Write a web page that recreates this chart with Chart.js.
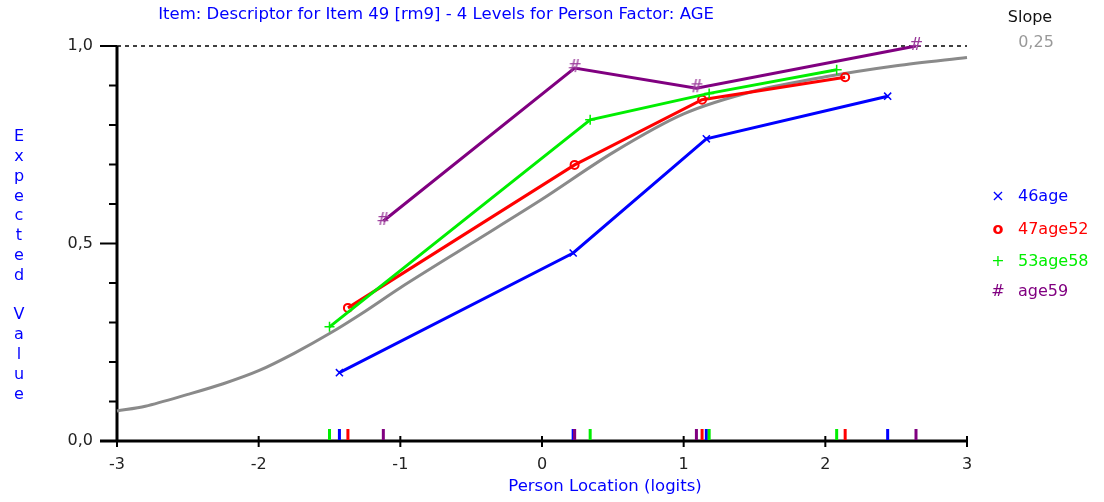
<!DOCTYPE html>
<html>
<head>
<meta charset="utf-8">
<script src="https://cdn.jsdelivr.net/npm/chart.js@4/dist/chart.umd.min.js"></script>
<style>
  body { margin: 0; background: #fff; }
  #wrap { width: 1104px; height: 502px; }
</style>
</head>
<body>
<div id="wrap"><canvas id="iccChart" width="1104" height="502"></canvas></div>
<script>
// expected value curve (grey)
const curveX = [-3, -2.8, -2.5, -2.25, -2, -1.75, -1.5, -1.25, -1, -0.5, 0, 0.5, 1, 1.5, 2, 2.5, 3];
const curveY = [0.076, 0.088, 0.118, 0.145, 0.178, 0.222, 0.272, 0.328, 0.388, 0.50, 0.612, 0.73, 0.828, 0.886, 0.922, 0.95, 0.971];

// class interval means per person factor level
const ageLabels = ['46age', '47age52', '53age58', 'age59'];
const blueX = [-1.43, 0.22, 1.16, 2.44];
const blueY = [0.173, 0.476, 0.765, 0.873];
const redX = [-1.37, 0.23, 1.13, 2.14];
const redY = [0.337, 0.699, 0.864, 0.921];
const greenX = [-1.50, 0.34, 1.18, 2.08];
const greenY = [0.289, 0.813, 0.88, 0.94];
const purpleX = [-1.12, 0.23, 1.09, 2.64];
const purpleY = [0.557, 0.944, 0.893, 1.0];

const xTicks = [-3, -2, -1, 0, 1, 2, 3];
const yMajor = [0, 0.5, 1.0];
const yMajorLabels = ['0,0', '0,5', '1,0'];
const yMinor = [0.1, 0.2, 0.3, 0.4, 0.6, 0.7, 0.8, 0.9];

const titleText = 'Item: Descriptor for Item 49 [rm9] - 4 Levels for Person Factor: AGE';
const xTitle = 'Person Location (logits)';
const yTitle = 'Expected Value';
const slopeLabel = 'Slope';
const slopeValue = '0,25';

const colors = ['#0000ff', '#ff0000', '#00ee00', '#800080'];
const glyphs = ['\u00d7', 'o', '+', '#'];
const FONT = '"DejaVu Sans", Verdana, sans-serif';

const zip = (xs, ys) => xs.map((x, i) => ({ x, y: ys[i] }));

// '#' marker for age59 as an image point style
const hashMark = document.createElement('canvas');
hashMark.width = 18; hashMark.height = 18;
(() => {
    const c = hashMark.getContext('2d');
    c.fillStyle = '#9a3a9a';
    c.font = '17px ' + FONT;
    c.textAlign = 'center';
    c.textBaseline = 'middle';
    c.fillText('#', 9, 9);
})();

const seriesX = [blueX, redX, greenX, purpleX];
const seriesY = [blueY, redY, greenY, purpleY];
const pointStyles = ['crossRot', 'circle', 'cross', hashMark];
const pointSizes = [5, 4, 5, 9];

const datasets = ageLabels.map((lab, i) => ({
    label: lab,
    data: zip(seriesX[i], seriesY[i]),
    showLine: true,
    borderColor: colors[i],
    borderWidth: 3,
    pointStyle: pointStyles[i],
    pointRadius: pointSizes[i],
    pointBorderWidth: i === 1 ? 2 : 1.5,
    pointBorderColor: colors[i],
    pointBackgroundColor: 'rgba(0,0,0,0)',
    order: 4 - i
}));
datasets.push({
    label: 'expected',
    data: zip(curveX, curveY),
    showLine: true,
    borderColor: '#8a8a8a',
    borderWidth: 3,
    pointRadius: 0,
    tension: 0.3,
    order: 10
});

const decor = {
    id: 'decor',
    beforeDatasetsDraw(chart) {
        const { ctx, scales: { x, y } } = chart;
        const x0 = x.getPixelForValue(-3), x1 = x.getPixelForValue(3);
        const yb = y.getPixelForValue(0), yt = y.getPixelForValue(1);
        ctx.save();
        // dashed line at 1,0
        ctx.strokeStyle = '#000';
        ctx.lineWidth = 1.5;
        ctx.setLineDash([4, 4]);
        ctx.beginPath(); ctx.moveTo(x0, yt); ctx.lineTo(x1, yt); ctx.stroke();
        ctx.setLineDash([]);
        // axes
        ctx.lineWidth = 3;
        ctx.beginPath();
        ctx.moveTo(x0, yt); ctx.lineTo(x0, yb);
        ctx.moveTo(x0 - 17, yb); ctx.lineTo(x1, yb);
        ctx.stroke();
        ctx.lineWidth = 2;
        ctx.beginPath();
        yMajor.forEach(v => { const p = y.getPixelForValue(v); ctx.moveTo(x0 - 17, p); ctx.lineTo(x0, p); });
        yMinor.forEach(v => { const p = y.getPixelForValue(v); ctx.moveTo(x0 - 8, p); ctx.lineTo(x0, p); });
        xTicks.forEach(v => { const p = x.getPixelForValue(v); ctx.moveTo(p, yb - 5); ctx.lineTo(p, yb + 6); });
        ctx.stroke();
        // rug marks for each level
        ctx.lineWidth = 3;
        seriesX.forEach((xs, i) => {
            ctx.strokeStyle = colors[i];
            ctx.beginPath();
            xs.forEach(v => { const p = x.getPixelForValue(v); ctx.moveTo(p, yb - 12); ctx.lineTo(p, yb - 1); });
            ctx.stroke();
        });
        ctx.restore();
    },
    afterDraw(chart) {
        const { ctx, scales: { x, y } } = chart;
        const x0 = x.getPixelForValue(-3);
        const yb = y.getPixelForValue(0);
        ctx.save();
        ctx.textBaseline = 'middle';
        ctx.font = '16px ' + FONT;
        ctx.fillStyle = '#222';
        ctx.textAlign = 'right';
        yMajor.forEach((v, i) => ctx.fillText(yMajorLabels[i], x0 - 24, y.getPixelForValue(v)));
        ctx.textAlign = 'center';
        xTicks.forEach(v => ctx.fillText(String(v), x.getPixelForValue(v), yb + 24));

        ctx.fillStyle = '#0000ff';
        ctx.font = '16.5px ' + FONT;
        ctx.fillText(titleText, 436, 15);
        ctx.fillText(xTitle, 605, 487);
        ctx.font = '16px ' + FONT;
        // vertical stacked y title
        [...yTitle].forEach((ch, i) => ctx.fillText(ch, 19, 137 + i * 19.8));

        ctx.fillStyle = '#111';
        ctx.fillText(slopeLabel, 1030, 18);
        ctx.fillStyle = '#999';
        ctx.fillText(slopeValue, 1036, 43);

        // legend
        const rows = [197, 230, 262, 292];
        ageLabels.forEach((lab, i) => {
            ctx.fillStyle = colors[i];
            ctx.textAlign = 'center';
            ctx.font = (i === 1 ? 'bold ' : '') + '16px ' + FONT;
            ctx.fillText(glyphs[i], 998, rows[i]);
            ctx.font = '16px ' + FONT;
            ctx.textAlign = 'left';
            ctx.fillText(lab, 1018, rows[i]);
        });
        ctx.restore();
    }
};

new Chart(document.getElementById('iccChart'), {
    type: 'scatter',
    data: { datasets },
    options: {
        responsive: false,
        animation: false,
        layout: { padding: { left: 117, right: 137, top: 46, bottom: 61 } },
        scales: {
            x: { type: 'linear', min: -3, max: 3, display: false },
            y: { type: 'linear', min: 0, max: 1, display: false }
        },
        datasets: { scatter: { clip: false } },
        plugins: { legend: { display: false }, tooltip: { enabled: false } }
    },
    plugins: [decor]
});
</script>
</body>
</html>
